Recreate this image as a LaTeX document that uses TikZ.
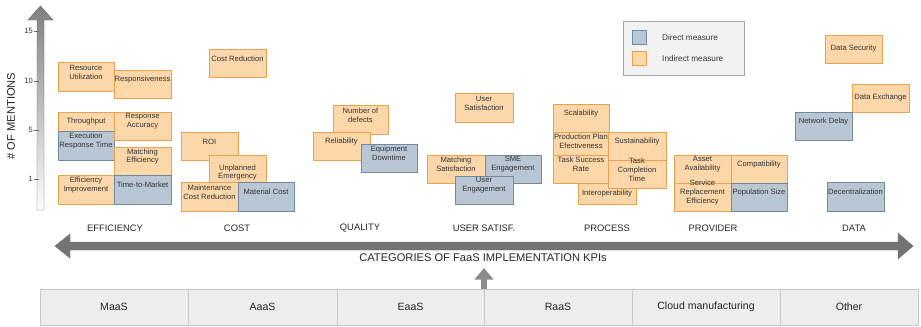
\documentclass[tikz,border=0pt]{standalone}
\usepackage{fontspec}
\setmainfont{Liberation Sans}
\usetikzlibrary{arrows.meta}
\definecolor{indfill}{HTML}{FBD7A9}
\definecolor{indline}{HTML}{E6A24E}
\definecolor{dirfill}{HTML}{B9C7D5}
\definecolor{dirline}{HTML}{6F8AA4}

\begin{document}
\begin{tikzpicture}[x=0.03cm,y=-0.03cm,
  ind/.style={draw=indline,fill=indfill,line width=0.8pt},
  dir/.style={draw=dirline,fill=dirfill,line width=0.8pt},
  lblc/.style={midway,align=center,inner sep=0pt,text=black!80,font=\fontsize{6.5}{7.6}\selectfont},
  lbl/.style={lblc,yshift=3.8pt},
  cat/.style={text=black!85,font=\fontsize{8}{9.6}\selectfont},
  cell/.style={draw=black!22,fill=black!7,outer sep=0pt,text=black!85,font=\fontsize{9}{10.8}\selectfont}]
\useasboundingbox (0,0) rectangle (921,326);

% vertical axis
\shadedraw[top color=black!50,bottom color=white,draw=black!60] (37,210) -- (37,20) -- (28,20) -- (40.5,6) -- (53,20) -- (44,20) -- (44,210) -- cycle;
\foreach \v/\y in {15/31,10/81,5/130,1/179}{
\draw[black!60] (34,\y) -- (39,\y);
\node[anchor=east,inner sep=0pt,text=black!80,font=\fontsize{6.5}{7.6}\selectfont] (t\v) at (33,\y) {\v};
}
\node[rotate=90,text=black!85,font=\fontsize{9.5}{11}\selectfont] (ylab) at (11,116) {\# OF MENTIONS};

% efficiency
\draw[ind] (58,62) rectangle (114,91) node[lbl] (resutil) {Resource\\Utilization};
\draw[ind] (114,70) rectangle (171,98) node[lbl] (respons) {Responsiveness};
\draw[ind] (58,112) rectangle (114,131) node[lblc] (through) {Throughput};
\draw[dir] (58,131) rectangle (114,160) node[lbl] (exectime) {Execution\\Response Time};
\draw[ind] (114,112) rectangle (171,140) node[lbl] (respacc) {Response\\Accuracy};
\draw[ind] (114,147) rectangle (171,175) node[lbl] (matcheff) {Matching\\Efficiency};
\draw[ind] (58,175) rectangle (114,204) node[lbl] (effimp) {Efficiency\\Improvement};
\draw[dir] (114,175) rectangle (171,204) node[lbl] (ttm) {Time-to-Market};

% cost
\draw[ind] (209,49) rectangle (266,77) node[lbl] (costred) {Cost Reduction};
\draw[ind] (181,132) rectangle (238,160) node[lbl] (roi) {ROI};
\draw[ind] (209,155) rectangle (266,183) node[lblc,yshift=-3pt] (unplan) {Unplanned\\Emergency};
\draw[ind] (181,182) rectangle (238,211) node[lbl] (maintcr) {Maintenance\\Cost Reduction};
\draw[dir] (238,182) rectangle (294,211) node[lbl] (matcost) {Material Cost};

% quality
\draw[ind] (333,105) rectangle (388,134) node[lbl] (defects) {Number of\\defects};
\draw[ind] (313,132) rectangle (370,160) node[lbl] (relia) {Reliability};
\draw[dir] (361,144) rectangle (417,172) node[lbl] (eqdown) {Equipment\\Downtime};

% user satisfaction
\draw[ind] (455,93) rectangle (513,122) node[lbl] (usersat) {User\\Satisfaction};
\draw[ind] (427,155) rectangle (485,183) node[lbl] (matchsat) {Matching\\Satisfaction};
\draw[dir] (485,155) rectangle (541,183) node[lbl] (smeeng) {SME\\Engagement};
\draw[dir] (455,176) rectangle (513,204) node[lbl] (usereng) {User\\Engagement};

% process
\draw[ind] (578,176) rectangle (636,204) node[lblc,yshift=-3.4pt] (interop) {Interoperability};
\draw[ind] (553,104) rectangle (609,132) node[lbl] (scal) {Scalability};
\draw[ind] (553,132) rectangle (609,155) node[lblc,yshift=1.7pt] (prodplan) {Production Plan\\Efectiveness};
\draw[ind] (553,155) rectangle (609,183) node[lbl] (tasksucc) {Task Success\\Rate};
\draw[ind] (608,132) rectangle (666,160) node[lbl] (sustain) {Sustainability};
\draw[ind] (608,160) rectangle (666,188) node[lbl] (taskcomp) {Task\\Completion\\Time};

% provider
\draw[ind] (674,155) rectangle (731,183) node[lbl] (assetav) {Asset\\Availability};
\draw[ind] (731,155) rectangle (787,183) node[lbl] (compat) {Compatibility};
\draw[ind] (674,183) rectangle (731,211) node[lbl] (servrep) {Service\\Replacement\\Efficiency};
\draw[dir] (731,183) rectangle (787,211) node[lbl] (popsize) {Population Size};

% data
\draw[ind] (825,35) rectangle (882,63) node[lblc] (datasec) {Data Security};
\draw[ind] (852,84) rectangle (909,112) node[lblc] (dataex) {Data Exchange};
\draw[dir] (795,112) rectangle (852,140) node[lbl] (netdelay) {Network Delay};
\draw[dir] (827,182) rectangle (884,211) node[lbl] (decent) {Decentralization};

% legend
\draw[draw=black!35,fill=black!5,line width=0.8pt] (623,21) rectangle (744,75);
\draw[dir] (632,30) rectangle (646,44);
\draw[ind] (632,51) rectangle (646,65);
\node[anchor=west,inner sep=0pt,text=black!80,font=\fontsize{7}{8.4}\selectfont] (ldir) at (662,38) {Direct measure};
\node[anchor=west,inner sep=0pt,text=black!80,font=\fontsize{7}{8.4}\selectfont] (lind) at (662,59) {Indirect measure};

% categories
\foreach \c/\x/\n in {EFFICIENCY/115/ceff,COST/237/ccost,QUALITY/360/cqual,USER SATISF./484/cuser,PROCESS/607/cproc,PROVIDER/713/cprov,DATA/854/cdata}
\node[cat] (\n) at (\x,228) {\c};

\shadedraw[left color=black!55,middle color=black!8,right color=black!55,draw=black!55] (55,246) -- (70,234) -- (70,242) -- (898,242) -- (898,233) -- (913,246) -- (898,259) -- (898,250) -- (70,250) -- (70,258) -- cycle;
\node[text=black!85,font=\fontsize{9.5}{11}\selectfont] (title) at (483,258) {CATEGORIES OF FaaS IMPLEMENTATION KPIs};

% service models
\foreach \a/\b/\t/\n in {40/188/MaaS/maas,188/337/AaaS/aaas,337/484/EaaS/eaas,484/632/RaaS/raas,632/780/Cloud manufacturing/cloud,780/918/Other/other}
\node[cell,minimum width={(\b-\a)*0.03cm},minimum height=1.08cm] (\n) at ({(\a+\b)/2},307) {\t};

\coordinate (uptip) at (484,268);
\draw[black!45,line width=5pt,-{Triangle[length=10pt,width=16pt]}] (raas.north west) -- (uptip);
\end{tikzpicture}
\end{document}
